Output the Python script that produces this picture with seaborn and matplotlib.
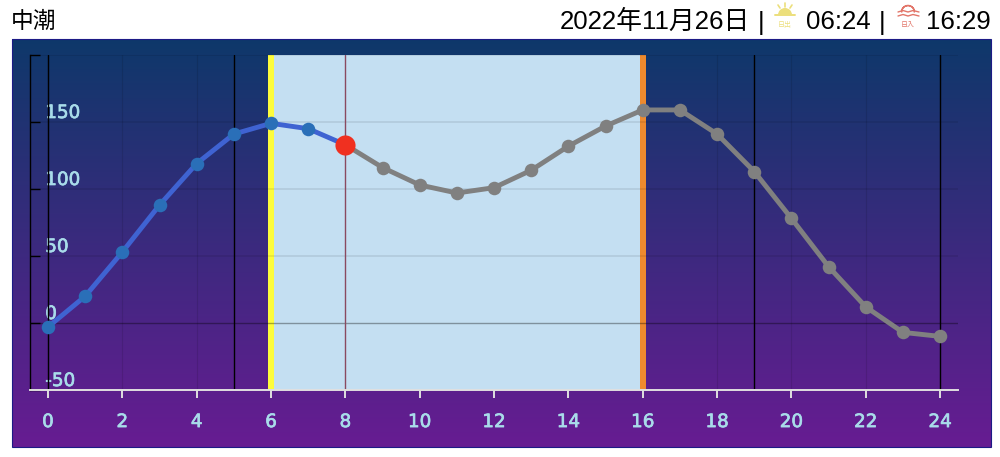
import matplotlib
matplotlib.use('Agg')
import matplotlib.pyplot as plt
import matplotlib.patheffects as pe
from matplotlib.colors import LinearSegmentedColormap
from matplotlib.patches import Wedge, Rectangle
import numpy as np
import pandas as pd
import seaborn as sns

hours = list(range(25))
tide = [-3, 20, 53, 88, 119, 141, 149, 145, 133, 116, 103, 97, 101, 114, 132,
        147, 159, 159, 141, 113, 78, 42, 12, -7, -10]
now_hour = 8
x_ticks = list(range(0, 25, 2))
y_ticks = [-50, 0, 50, 100, 150, 200]
y_labels = ['-50', '0', '50', '100', '150', '']
black_hours = [0, 5, 19, 24]
title = '中潮'
date_text = '2022年11月26日'
sunrise = '06:24'
sunset = '16:29'

sns.set_style('white')
plt.rcParams['font.family'] = ['Liberation Sans', 'Noto Sans CJK JP', 'DejaVu Sans']

df = pd.DataFrame({'hour': hours, 'tide': tide})
past = df[df.hour <= now_hour]
future = df[df.hour >= now_hour]
W, H = 1000, 457

fig = plt.figure(figsize=(10, 4.57), dpi=100)

# page layer in pixel coordinates: gradient panel, header, icons
bg = fig.add_axes([0, 0, 1, 1])
bg.axis('off')
cmap = LinearSegmentedColormap.from_list('panel', ['#0e386a', '#671c92'])
bg.imshow(np.linspace(0, 1, 256).reshape(-1, 1), cmap=cmap, aspect='auto',
          extent=(12, 991, 447, 39))
bg.add_patch(Rectangle((12, 39), 979, 408, fill=False, ec='#1c1a86', lw=0.8))
bg.set_xlim(0, W)
bg.set_ylim(H, 0)

bg.text(11, 21, title, fontsize=16.4, color='black', va='center', family=['Noto Sans CJK JP'])
header = dict(fontsize=18.6, color='black', va='center')
bg.text(560, 22, date_text, **header)
bg.text(761, 23, '|', **header, ha='center')
bg.text(806, 22, sunrise, **header)
bg.text(882, 23, '|', **header, ha='center')
bg.text(926, 22, sunset, **header)

# sunrise icon (y axis of this layer points down, so 180-360 is the upper half)
sun = '#ecdf7c'
bg.add_patch(Wedge((785, 15), 7, 180, 360, color=sun, lw=0))
bg.plot([775, 795], [15, 15], color=sun, lw=1.4)
for x0, y0, x1, y1 in [(785, 3, 785, 7), (778, 5, 780, 8), (792, 5, 790, 8)]:
    bg.plot([x0, x1], [y0, y1], color=sun, lw=1.2)
bg.text(785, 25, '日出', fontsize=5, color=sun, ha='center', va='center',
        family=['Noto Sans CJK JP'])

# sunset icon
dusk = '#e2766a'
bg.add_patch(Wedge((908, 12), 6.5, 180, 360, width=0.1, color=dusk, lw=1))
for yy in [12, 16]:
    bg.plot([898, 903, 908, 913, 919], [yy, yy - 1.5, yy, yy - 1.5, yy], color=dusk, lw=1)
bg.text(908, 25, '日入', fontsize=5, color=dusk, ha='center', va='center',
        family=['Noto Sans CJK JP'])

# plot area
ax = fig.add_axes([30 / W, 1 - 390 / H, 928 / W, 335 / H])
ax.patch.set_alpha(0)
ax.set_xlim(-0.484, 24.48)
ax.set_ylim(-50, 200)

for x in x_ticks:
    ax.axvline(x, color='black', alpha=0.1, lw=0.8, zorder=0.5)
ax.axvspan(5.92, 16.1, color='#c4dff2', lw=0, zorder=1)
ax.axvspan(5.92, 6.08, color='#fdfc3c', lw=0, zorder=2)
ax.axvspan(15.93, 16.1, color='#ee8a2e', lw=0, zorder=2)

for y in y_ticks[1:]:
    ax.axhline(y, color='black', alpha=0.08 if y else 0.35, lw=1.4 if y else 1, zorder=2.5)
for x in black_hours:
    ax.axvline(x, color='black', lw=1, zorder=2.5)
ax.axvline(now_hour, color='#8a4a60', lw=1, zorder=2.5)

sns.lineplot(data=future, x='hour', y='tide', color='#808080', lw=3.5, ax=ax, zorder=3)
sns.scatterplot(data=future, x='hour', y='tide', color='#808080', s=95, linewidth=0,
                ax=ax, zorder=4, clip_on=False)
sns.lineplot(data=past, x='hour', y='tide', color='#3f63d2', lw=3.5, ax=ax, zorder=5)
sns.scatterplot(data=past, x='hour', y='tide', color='#2a6fb8', s=95, linewidth=0,
                ax=ax, zorder=6, clip_on=False)
sns.scatterplot(data=df[df.hour == now_hour], x='hour', y='tide', color='#f03020', s=210,
                linewidth=0, ax=ax, zorder=7, clip_on=False)

ax.set_xlabel('')
ax.set_ylabel('')
ax.set_xticks(x_ticks)
ax.set_yticks(y_ticks)
ax.set_yticklabels(y_labels)
ax.tick_params(axis='x', direction='out', length=5.8, width=1.4, color='#e0e0e0', pad=10.8,
               labelsize=13.2, labelcolor='#a9dcea', bottom=True)
ax.tick_params(axis='y', direction='in', length=7, width=1, color='black', pad=-11,
               labelsize=13.2, labelcolor='#a9dcea', left=True)
for lab in ax.get_xticklabels() + ax.get_yticklabels():
    lab.set_family(['DejaVu Sans'])
    lab.set_path_effects([pe.withStroke(linewidth=0.5, foreground='#a9dcea')])
for lab in ax.get_yticklabels():
    lab.set_ha('left')
    lab.set_va('bottom')
    lab.set_zorder(8)

for side in ['top', 'right']:
    ax.spines[side].set_visible(False)
ax.spines['left'].set_color('black')
ax.spines['left'].set_linewidth(1)
ax.spines['bottom'].set_color('#e0e0e0')
ax.spines['bottom'].set_linewidth(1.4)

plt.savefig('out.png', dpi=100)
